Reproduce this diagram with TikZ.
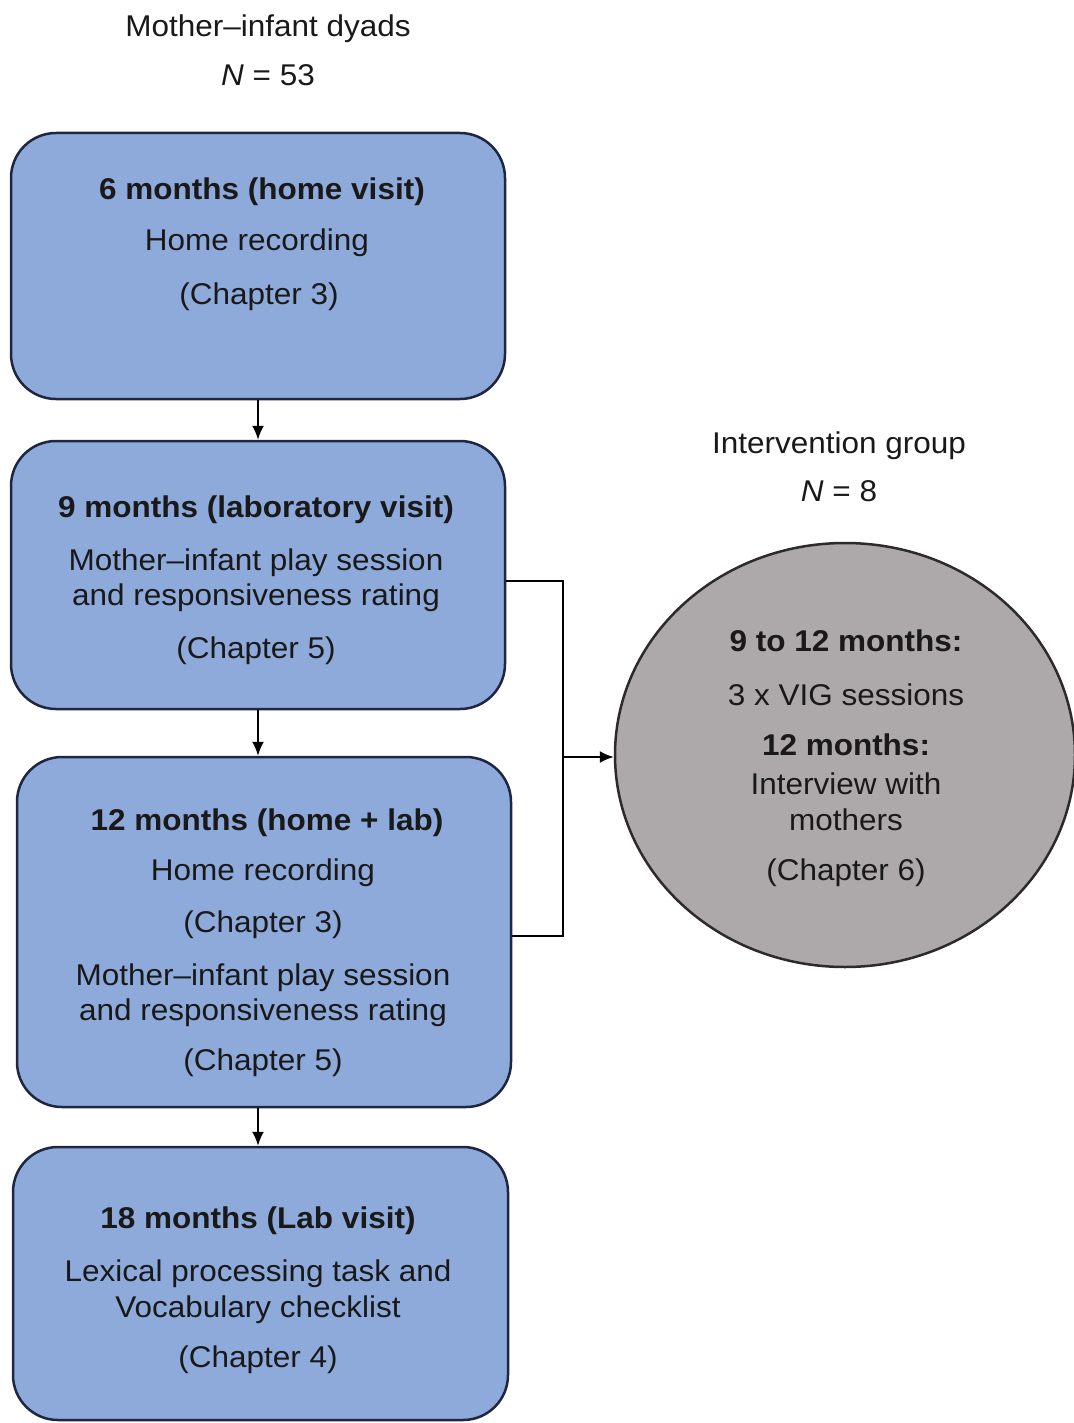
\documentclass[tikz,border=0pt]{standalone}
\usepackage{fontspec}
\setmainfont{Liberation Sans}
\usetikzlibrary{arrows.meta,shapes.geometric}
\definecolor{boxfill}{HTML}{8EAADB}
\definecolor{boxline}{HTML}{1E2640}
\definecolor{ellfill}{HTML}{ADA9AA}
\definecolor{ellline}{HTML}{2E2A2B}
\newcommand{\widetxt}[1]{\scalebox{1.05}[1]{#1}}
\begin{document}
\begin{tikzpicture}[x=1pt,y=-1pt,
  stagebox/.style={draw=boxline,fill=boxfill,line width=2.5pt,rounded corners=45pt,
    rectangle,inner sep=0pt},
  txt/.style={anchor=base,inner sep=0pt,font=\fontsize{30}{36}\selectfont,text=black!90},
  btxt/.style={txt,font=\fontsize{30}{36}\selectfont\bfseries},
  conn/.style={line width=2pt,draw=black},
  arr/.style={conn,-{Latex[length=14pt,width=12pt]}}]
\useasboundingbox (0,0) rectangle (1073,1423);
% boxes
\node[stagebox,minimum width=494pt,minimum height=266pt] (b1) at (258,266) {};
\node[stagebox,minimum width=494pt,minimum height=268pt] (b2) at (258,575) {};
\node[stagebox,minimum width=494pt,minimum height=350pt] (b3) at (264,932) {};
\node[stagebox,minimum width=495pt,minimum height=273pt] (b4) at (260.5,1283.5) {};
\node[ellipse,draw=ellline,fill=ellfill,line width=2.5pt,minimum width=460pt,minimum height=424pt,inner sep=0pt] (ell) at (845,755) {};
% headers
\node[txt] (h1) at (268,37) {\widetxt{Mother–infant dyads}};
\node[txt] (h2) at (268,86) {\widetxt{\textit{N} = 53}};
\node[txt] (h3) at (839,453) {\widetxt{Intervention group}};
\node[txt] (h4) at (839,501) {\widetxt{\textit{N} = 8}};
% box 1
\node[btxt] (t11) at (262,200) {\widetxt{6 months (home visit)}};
\node[txt] (t12) at (257,251) {\widetxt{Home recording}};
\node[txt] (t13) at (259,304) {\widetxt{(Chapter 3)}};
% box 2
\node[btxt] (t21) at (256,517) {\widetxt{9 months (laboratory visit)}};
\node[txt] (t22) at (256,570) {\widetxt{Mother–infant play session}};
\node[txt] (t23) at (256,605) {\widetxt{and responsiveness rating}};
\node[txt] (t24) at (256,658) {\widetxt{(Chapter 5)}};
% box 3
\node[btxt] (t31) at (267,830) {\widetxt{12 months (home + lab)}};
\node[txt] (t32) at (263,880) {\widetxt{Home recording}};
\node[txt] (t33) at (263,932) {\widetxt{(Chapter 3)}};
\node[txt] (t34) at (263,985) {\widetxt{Mother–infant play session}};
\node[txt] (t35) at (263,1020) {\widetxt{and responsiveness rating}};
\node[txt] (t36) at (263,1070) {\widetxt{(Chapter 5)}};
% box 4
\node[btxt] (t41) at (258,1228) {\widetxt{18 months (Lab visit)}};
\node[txt] (t42) at (258,1281) {\widetxt{Lexical processing task and}};
\node[txt] (t43) at (258,1317) {\widetxt{Vocabulary checklist}};
\node[txt] (t44) at (258,1367) {\widetxt{(Chapter 4)}};
% ellipse
\node[btxt] (e1) at (846,651) {\widetxt{9 to 12 months:}};
\node[txt] (e2) at (846,705) {\widetxt{3 x VIG sessions}};
\node[btxt] (e3) at (846,755) {\widetxt{12 months:}};
\node[txt] (e4) at (846,794) {\widetxt{Interview with}};
\node[txt] (e5) at (846,830) {\widetxt{mothers}};
\node[txt] (e6) at (846,880) {\widetxt{(Chapter 6)}};
% connectors
\draw[arr] (b1.south) -- (b1.south |- b2.north);
\draw[arr] (b2.south) -- (b2.south |- b3.north);
\draw[arr] (b1.south |- b3.south) -- (b1.south |- b4.north);
\coordinate (j) at (563,757);
\draw[conn] ([yshift=-6pt]b2.east) -| (j) |- ([yshift=-4pt]b3.east);
\draw[arr] (j) -- (ell.west |- j);
\end{tikzpicture}
\end{document}
